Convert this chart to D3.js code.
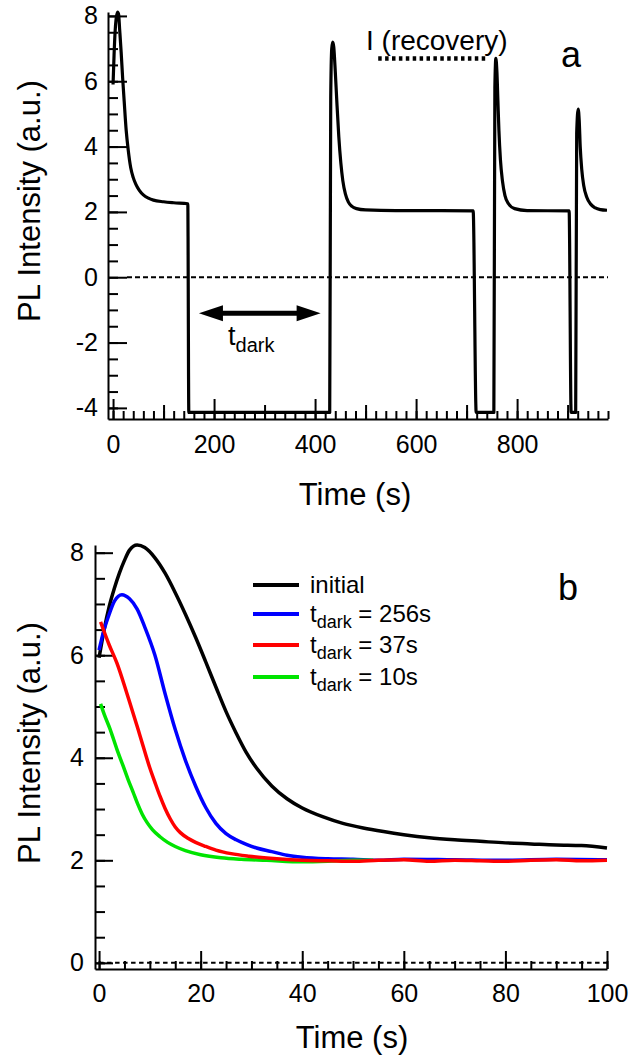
<!DOCTYPE html>
<html><head><meta charset="utf-8">
<script src="https://cdn.jsdelivr.net/npm/d3@7"></script>
<style>
body{margin:0;background:#fff}
svg{display:block}
text{font-family:"Liberation Sans",Arial,Helvetica,sans-serif;fill:#000}
</style>
</head><body>
<svg id="c" width="630" height="1057"></svg>
<script>
// ---------------- DATA ----------------
// Panel a: full PL trace (time s, intensity a.u.)
const traceA = [
 [0,5.9],[2,6.8],[4,7.5],[6,7.9],[9,8.12],[11,8.05],[13,7.6],[16,6.9],[19,6.1],[22,5.4],[26,4.5],[30,3.9],[35,3.35],[40,3.05],[45,2.85],[52,2.66],[60,2.52],[70,2.42],[80,2.36],[100,2.31],[120,2.28],[148,2.25],
 [150,-4.14],[300,-4.14],[429,-4.14],
 [431,5.5],[433,7.0],[435,7.2],[437,7.05],[440,6.3],[443,5.4],[447,4.3],[451,3.5],[455,2.95],[460,2.55],[466,2.3],[473,2.17],[482,2.1],[500,2.06],[560,2.04],[650,2.04],[713,2.03],
 [719,-4.14],[754,-4.14],
 [756,5.8],[758,6.7],[760,6.3],[762,5.4],[764,4.5],[767,3.6],[771,2.95],[776,2.5],[783,2.25],[795,2.1],[820,2.04],[903,2.03],
 [907,-4.14],[916,-4.14],
 [918,4.4],[921,5.15],[923,4.8],[925,4.0],[928,3.3],[932,2.8],[938,2.45],[945,2.25],[955,2.12],[965,2.07],[978,2.05]
];
const xTicksA = [0,200,400,600,800];
const yTicksA = [-4,-2,0,2,4,6,8];
const recoveryLevel = 6.7;         // I (recovery) dotted marker level
const recoverySpan = [525, 742];   // time span of the dotted marker
const darkArrowSpan = [170, 411];  // t_dark arrow (s)
const darkArrowLevel = -1.1;

// Panel b: first 100 s after illumination
const seriesNames = ["initial", "256s", "37s", "10s"];
const seriesColors = ["#000000", "#0000ff", "#ff0000", "#00e400"];
const initialB = [[0,5.95],[1,6.5],[2,6.95],[3,7.3],[4,7.6],[5,7.85],[6,8.05],[7.5,8.15],[9,8.1],[11,7.9],[13,7.6],[15,7.22],[17,6.8],[19,6.35],[21,5.87],[23,5.38],[25,4.9],[27,4.48],[29,4.1],[31,3.8],[34,3.45],[37,3.2],[40,3.02],[44,2.85],[48,2.72],[52,2.63],[56,2.56],[60,2.5],[65,2.44],[70,2.4],[75,2.37],[80,2.34],[85,2.32],[90,2.3],[95,2.29],[100,2.24]];
const dark256B = [[0,6.1],[1,6.5],[2,6.8],[3,7.05],[4.5,7.18],[6,7.1],[7.5,6.9],[9,6.55],[11,6.0],[13,5.25],[15,4.55],[17,3.95],[19,3.45],[21,3.03],[23,2.72],[25,2.52],[27,2.4],[29,2.31],[31,2.24],[34,2.17],[37,2.1],[40,2.06],[45,2.03],[50,2.02],[55,2.0],[60,2.02],[70,2.01],[80,2.0],[90,2.02],[100,2.01]];
const dark37B = [[0.3,6.65],[2,6.2],[3.5,5.85],[5.5,5.25],[8,4.45],[10,3.8],[11,3.52],[12,3.25],[13,3.01],[14,2.81],[15,2.65],[16,2.54],[17.5,2.43],[19,2.35],[21,2.27],[23,2.2],[26,2.13],[29.5,2.08],[35,2.03],[40,2.0],[45,1.99],[50,1.98],[55,2.0],[60,2.01],[65,1.98],[70,2.0],[75,1.99],[80,1.98],[85,2.0],[90,2.01],[95,1.99],[100,2.0]];
const dark10B = [[0.3,5.05],[1,4.85],[2.2,4.55],[3.5,4.17],[4.7,3.85],[5.7,3.58],[6.7,3.33],[7.6,3.1],[8.5,2.9],[9.5,2.73],[10.5,2.6],[12,2.46],[13.5,2.35],[15,2.27],[17,2.19],[20,2.11],[24,2.05],[28,2.02],[33,2.0],[40,1.97],[45,1.98],[50,2.0],[54,2.0]];
const seriesB = [initialB, dark256B, dark37B, dark10B];
const xTicksB = [0,20,40,60,80,100];
const yTicksB = [0,2,4,6,8];

// ---------------- DRAWING ----------------
const svg = d3.select("#c");

function styleAxis(g){
  g.selectAll("path,line").attr("stroke","#000").attr("stroke-width",2);
  g.selectAll("text").attr("fill","#000").attr("font-family",'"Liberation Sans",Arial,sans-serif');
}

function addAxes(x, y, cfg){
  const y0 = y.range()[0], x0 = x.range()[0];
  svg.append("g").attr("transform",`translate(0,${y0})`)
    .call(d3.axisBottom(x).tickValues(cfg.xMinor).tickSize(-cfg.xMinorLen).tickSizeOuter(0).tickFormat(""))
    .call(styleAxis);
  if (cfg.xMid) svg.append("g").attr("transform",`translate(0,${y0})`)
    .call(d3.axisBottom(x).tickValues(cfg.xMid).tickSize(-cfg.xMidLen).tickSizeOuter(0).tickFormat(""))
    .call(g=>g.select(".domain").remove()).call(styleAxis);
  svg.append("g").attr("transform",`translate(0,${y0})`)
    .call(d3.axisBottom(x).tickValues(cfg.xMajor).tickSize(-cfg.xMajorLen).tickSizeOuter(0).tickPadding(cfg.xPad).tickFormat(d3.format("d")))
    .call(g=>g.select(".domain").remove()).call(styleAxis)
    .call(g=>g.selectAll("text").attr("font-size",cfg.fs));
  svg.append("g").attr("transform",`translate(${x0},0)`)
    .call(d3.axisLeft(y).tickValues(cfg.yMinor).tickSize(-cfg.yMinorLen).tickSizeOuter(0).tickFormat(""))
    .call(styleAxis);
  svg.append("g").attr("transform",`translate(${x0},0)`)
    .call(d3.axisLeft(y).tickValues(cfg.yMajor).tickSize(-cfg.yMajorLen).tickSizeOuter(0).tickPadding(cfg.yPad).tickFormat(d=>String(d)))
    .call(g=>g.select(".domain").remove()).call(styleAxis)
    .call(g=>g.selectAll("text").attr("font-size",cfg.fs));
}

// ----- Panel a -----
const xA = d3.scaleLinear().domain([-10, 980]).range([108, 608]);
const yA = d3.scaleLinear().domain([-4.34, 8.12]).range([419, 12]);

addAxes(xA, yA, {
  xMinor: d3.range(0, 981, 20), xMinorLen: 8,
  xMid: d3.range(100, 981, 200), xMidLen: 14,
  xMajor: xTicksA, xMajorLen: 20, xPad: 16,
  yMinor: d3.range(-4, 8.01, 0.5), yMinorLen: 10,
  yMajor: yTicksA, yMajorLen: 19, yPad: 10, fs: 25
});

svg.append("line").attr("x1", xA.range()[0]+19).attr("x2", xA.range()[1])
  .attr("y1", yA(0)).attr("y2", yA(0))
  .attr("stroke","#000").attr("stroke-width",2).attr("stroke-dasharray","5,3");

const lineA = d3.line().x(d=>xA(d[0])).y(d=>yA(d[1])).curve(d3.curveMonotoneX);
svg.append("path").datum(traceA).attr("d", lineA)
  .attr("fill","none").attr("stroke","#000").attr("stroke-width",3.2).attr("stroke-linejoin","round");

// I (recovery) marker
svg.append("line").attr("x1", xA(recoverySpan[0])).attr("x2", xA(recoverySpan[1]))
  .attr("y1", yA(recoveryLevel)).attr("y2", yA(recoveryLevel))
  .attr("stroke","#000").attr("stroke-width",4.5).attr("stroke-dasharray","3.5,3.4");
svg.append("text").attr("x", 366).attr("y", 50).attr("font-size", 28).text("I (recovery)");

// t_dark arrow
const ay = yA(darkArrowLevel);
const ax1 = xA(darkArrowSpan[0]), ax2 = xA(darkArrowSpan[1]);
svg.append("line").attr("x1", ax1+15).attr("x2", ax2-15).attr("y1", ay).attr("y2", ay)
  .attr("stroke","#000").attr("stroke-width",5);
svg.append("path").attr("d", `M${ax1},${ay} L${ax1+24},${ay-8} L${ax1+24},${ay+8} Z`).attr("fill","#000");
svg.append("path").attr("d", `M${ax2},${ay} L${ax2-24},${ay-8} L${ax2-24},${ay+8} Z`).attr("fill","#000");
const td = svg.append("text").attr("x", 228).attr("y", 345).attr("font-size", 27);
td.append("tspan").text("t");
td.append("tspan").attr("font-size", 20).attr("dy", 7).text("dark");

svg.append("text").attr("x", 561).attr("y", 67).attr("font-size", 36).text("a");

svg.append("text").attr("x", 355).attr("y", 505).attr("font-size", 31).attr("text-anchor","middle").text("Time (s)");
svg.append("text").attr("transform","translate(40,201) rotate(-90)").attr("font-size", 31).attr("text-anchor","middle").text("PL Intensity (a.u.)");

// ----- Panel b -----
const xB = d3.scaleLinear().domain([-0.8, 100]).range([95, 607]);
const yB = d3.scaleLinear().domain([-0.12, 8.15]).range([969, 545]);

addAxes(xB, yB, {
  xMinor: d3.range(0, 100.1, 5), xMinorLen: 8,
  xMid: null,
  xMajor: xTicksB, xMajorLen: 18, xPad: 15,
  yMinor: d3.range(0, 8.01, 0.5), yMinorLen: 10,
  yMajor: yTicksB, yMajorLen: 18, yPad: 11, fs: 25
});

svg.append("line").attr("x1", xB(0)).attr("x2", xB(100))
  .attr("y1", yB(0)).attr("y2", yB(0))
  .attr("stroke","#000").attr("stroke-width",2).attr("stroke-dasharray","4.5,3.5");

const lineB = d3.line().x(d=>xB(d[0])).y(d=>yB(d[1])).curve(d3.curveMonotoneX);
const order = [0, 1, 3, 2];
order.forEach(i=>{
  svg.append("path").datum(seriesB[i]).attr("d", lineB)
    .attr("fill","none").attr("stroke", seriesColors[i]).attr("stroke-width",3.5).attr("stroke-linejoin","round");
});

// legend
const legY = [585, 614, 645, 677];
seriesNames.forEach((name, i)=>{
  svg.append("line").attr("x1",253).attr("x2",299).attr("y1",legY[i]).attr("y2",legY[i])
    .attr("stroke", seriesColors[i]).attr("stroke-width",4);
  const t = svg.append("text").attr("x",310).attr("y",legY[i]+8).attr("font-size",24);
  if (i === 0) { t.text(name); }
  else {
    t.append("tspan").text("t");
    t.append("tspan").attr("font-size",18).attr("dy",6).text("dark");
    t.append("tspan").attr("dy",-6).text(" = " + name);
  }
});

svg.append("text").attr("x", 558).attr("y", 600).attr("font-size", 36).text("b");

svg.append("text").attr("x", 352).attr("y", 1048).attr("font-size", 31).attr("text-anchor","middle").text("Time (s)");
svg.append("text").attr("transform","translate(40,743) rotate(-90)").attr("font-size", 31).attr("text-anchor","middle").text("PL Intensity (a.u.)");
</script>
</body></html>
